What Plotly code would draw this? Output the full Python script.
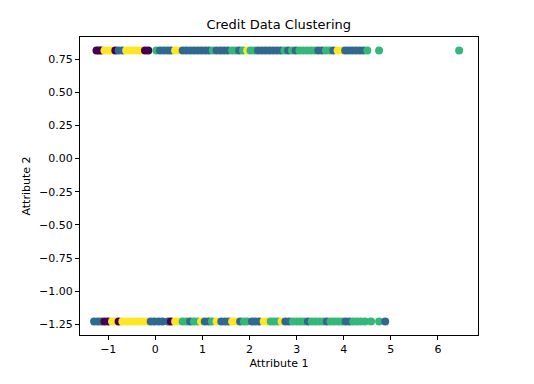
import plotly.graph_objects as go

# Cluster palette (viridis, 4 clusters)
cluster_colors = ["#440154", "#31688e", "#35b779", "#fde725"]

# Attribute 2 levels
top_level = 0.8136
bottom_level = -1.2291

# Top row: Attribute 1 values and cluster ids
top_x = [-1.25, -1.2, -1.15, -1.08, -1.0, -0.93, -0.85, -0.78, -0.7, -0.62,
         -0.55, -0.47, -0.4, -0.32, -0.22, -0.15, 0.02, 0.1, 0.18, 0.26,
         0.33, 0.42, 0.5, 0.58, 0.66, 0.74, 0.82, 0.9, 0.98, 1.06,
         1.14, 1.22, 1.3, 1.38, 1.46, 1.54, 1.63, 1.7, 1.78, 1.86,
         1.95, 2.02, 2.1, 2.18, 2.26, 2.34, 2.42, 2.5, 2.58, 2.66,
         2.74, 2.82, 2.9, 2.98, 3.06, 3.14, 3.22, 3.3, 3.38, 3.46,
         3.54, 3.62, 3.7, 3.78, 3.87, 3.95, 4.03, 4.1, 4.18, 4.26,
         4.34, 4.42, 4.5, 4.75, 6.45]
top_c = [0, 0, 0, 3, 3, 3, 0, 1, 1, 3,
         3, 3, 3, 3, 0, 0, 2, 1, 1, 1,
         1, 3, 3, 1, 1, 1, 1, 1, 1, 1,
         1, 2, 1, 1, 1, 1, 2, 2, 1, 2,
         3, 2, 2, 1, 1, 1, 1, 1, 1, 1,
         2, 1, 2, 1, 2, 2, 2, 2, 2, 1,
         1, 2, 2, 1, 3, 3, 1, 1, 1, 1,
         1, 1, 2, 2, 2]

# Bottom row
bottom_x = [-1.3, -1.22, -1.15, -1.08, -1.0, -0.92, -0.85, -0.78, -0.7, -0.62,
            -0.55, -0.47, -0.4, -0.32, -0.25, -0.18, -0.1, -0.02, 0.07, 0.15,
            0.27, 0.33, 0.42, 0.5, 0.58, 0.66, 0.74, 0.82, 0.9, 0.97,
            1.05, 1.13, 1.2, 1.3, 1.4, 1.48, 1.56, 1.63, 1.7, 1.8,
            1.88, 1.95, 2.05, 2.12, 2.2, 2.3, 2.37, 2.45, 2.52, 2.6,
            2.68, 2.76, 2.84, 2.92, 3.0, 3.08, 3.16, 3.24, 3.32, 3.4,
            3.48, 3.56, 3.64, 3.72, 3.8, 3.88, 3.96, 4.04, 4.12, 4.2,
            4.28, 4.36, 4.45, 4.58, 4.75, 4.88]
bottom_c = [1, 1, 1, 0, 0, 3, 3, 0, 3, 3,
            3, 3, 3, 3, 3, 3, 1, 1, 1, 1,
            1, 0, 3, 3, 2, 2, 1, 2, 2, 3,
            1, 1, 2, 3, 1, 1, 1, 3, 3, 1,
            2, 2, 1, 1, 1, 3, 3, 2, 2, 2,
            3, 1, 1, 2, 2, 2, 2, 1, 2, 2,
            2, 2, 1, 2, 2, 2, 2, 1, 1, 2,
            2, 2, 2, 2, 2, 1]

xs = top_x + bottom_x
ys = [top_level] * len(top_x) + [bottom_level] * len(bottom_x)
cs = [cluster_colors[c] for c in top_c + bottom_c]

fig = go.Figure(go.Scatter(
    x=xs, y=ys, mode="markers",
    marker=dict(color=cs, size=8, line=dict(width=0)),
    hoverinfo="x+y",
))

font = "DejaVu Sans"
axis_common = dict(
    showgrid=False, zeroline=False, showline=True, linecolor="black", linewidth=1,
    mirror=True, ticks="outside", ticklen=4, tickcolor="black", tickwidth=1,
    tickfont=dict(family=font, size=11, color="black"), automargin=False,
)
fig.update_layout(
    width=534, height=384,
    margin=dict(l=72, r=64, t=29, b=57),
    paper_bgcolor="white", plot_bgcolor="white",
    showlegend=False,
    title=dict(text="Credit Data Clustering", x=0.507, xanchor="center",
               y=1 - 16 / 384, yanchor="middle", automargin=False,
               font=dict(family=font, size=13, color="black")),
    xaxis=dict(range=[-1.6, 6.85], tickvals=[-1, 0, 1, 2, 3, 4, 5, 6],
               ticktext=["\u22121", "0", "1", "2", "3", "4", "5", "6"],
               title=dict(text="Attribute 1", standoff=4,
                          font=dict(family=font, size=11, color="black")),
               **axis_common),
    yaxis=dict(range=[-1.33, 0.916],
               tickvals=[0.75, 0.5, 0.25, 0.0, -0.25, -0.5, -0.75, -1.0, -1.25],
               ticktext=["0.75", "0.50", "0.25", "0.00", "\u22120.25", "\u22120.50",
                         "\u22120.75", "\u22121.00", "\u22121.25"],
               title=dict(text="Attribute 2", standoff=6,
                          font=dict(family=font, size=11, color="black")),
               **axis_common),
)

fig.write_html("out.html")
